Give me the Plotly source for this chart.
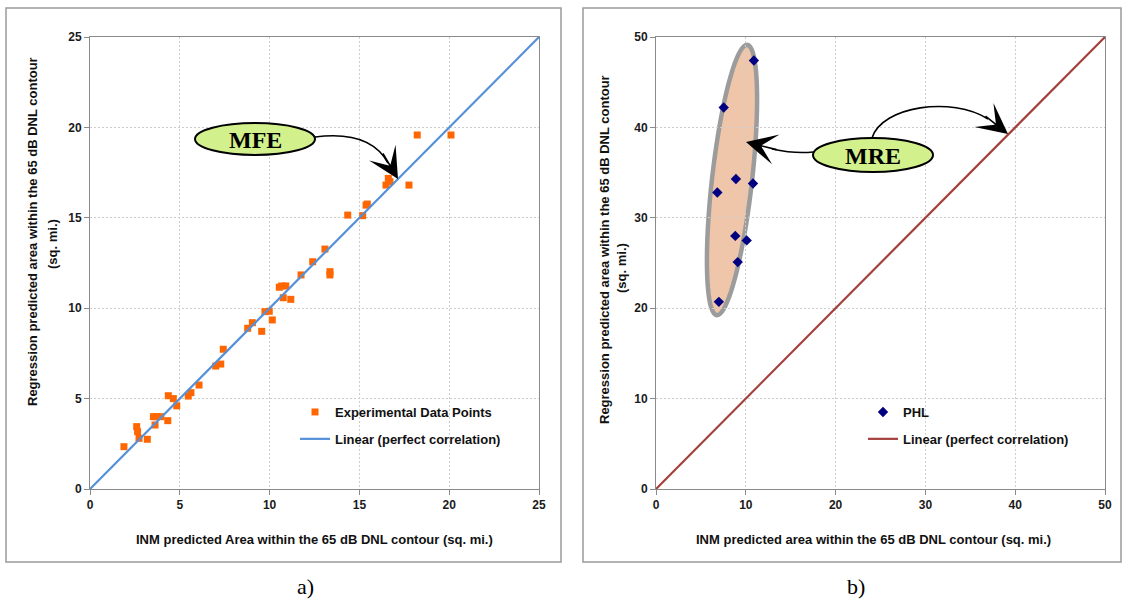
import numpy as np
import plotly.graph_objects as go

W, H = 1126, 602

# ---------------- data ----------------
# Panel a) experimental data points (INM area vs regression area, sq. mi.)
exp_x = [1.89, 2.6, 2.65, 2.73, 3.19, 3.53, 3.71, 3.62, 3.95, 4.33, 4.36, 4.64, 4.83,
         5.47, 5.62, 6.07, 7.0, 7.28, 7.42, 8.78, 9.04, 9.56, 9.74, 9.98, 10.15,
         10.54, 10.67, 10.9, 10.76, 11.18, 11.75, 12.4, 13.08, 13.36, 13.36,
         14.35, 15.18, 15.37, 15.44, 16.48, 16.61, 16.7, 17.76, 18.22, 20.1]
exp_y = [2.34, 3.45, 3.17, 2.8, 2.75, 4.0, 4.0, 3.54, 4.0, 3.78, 5.16, 5.0, 4.6,
         5.14, 5.33, 5.75, 6.8, 6.91, 7.73, 8.89, 9.2, 8.72, 9.81, 9.83, 9.35,
         11.16, 11.23, 11.23, 10.58, 10.49, 11.84, 12.57, 13.27, 12.02, 11.84,
         15.15, 15.12, 15.7, 15.76, 16.81, 17.18, 17.0, 16.81, 19.58, 19.58]
line_a_x = [0, 25]
line_a_y = [0, 25]

# Panel b) PHL points
phl_x = [10.9, 7.54, 8.9, 6.83, 10.8, 8.83, 10.1, 9.1, 7.0]
phl_y = [47.4, 42.2, 34.3, 32.8, 33.8, 28.0, 27.5, 25.1, 20.7]
line_b_x = [0, 50]
line_b_y = [0, 50]

ticks_a = [0, 5, 10, 15, 20, 25]
ticks_b = [0, 10, 20, 30, 40, 50]

# ---------------- helpers ----------------
def px(x):
    return x / W

def py(y):
    return 1 - y / H

FONT = "Liberation Sans"
AX_L, AX_R = 90, 539
BX_L, BX_R = 656, 1105
P_TOP, P_BOT = 37, 489

fig = go.Figure()

fig.add_trace(go.Scatter(x=exp_x, y=exp_y, mode="markers", name="Experimental Data Points",
                         marker=dict(symbol="square", size=7, color="#FF6600"),
                         xaxis="x", yaxis="y", legend="legend", legendgroup="a1"))
fig.add_trace(go.Scatter(x=line_a_x, y=line_a_y, mode="lines", name="Linear (perfect correlation)",
                         line=dict(color="#5590D8", width=2.2),
                         xaxis="x", yaxis="y", legend="legend", legendgroup="a2"))
fig.add_trace(go.Scatter(x=phl_x, y=phl_y, mode="markers", name="PHL",
                         marker=dict(symbol="diamond", size=8, color="#000080"),
                         xaxis="x2", yaxis="y2", legend="legend2", legendgroup="b1"))
fig.add_trace(go.Scatter(x=line_b_x, y=line_b_y, mode="lines", name="Linear (perfect correlation)",
                         line=dict(color="#A4403B", width=2.2),
                         xaxis="x2", yaxis="y2", legend="legend2", legendgroup="b2"))

tickfont = dict(family=FONT, size=12, color="#1a1a1a", weight="bold")

def axis(domain, ticks, anchor):
    return dict(domain=domain, range=[ticks[0], ticks[-1]], tickvals=ticks, anchor=anchor,
                automargin=False,
                showgrid=True, gridcolor="#cdcdcd", griddash="2px,2px", gridwidth=1,
                showline=True, linecolor="#8a8a8a", linewidth=1, mirror=True,
                ticks="outside", ticklen=5, tickcolor="#8a8a8a",
                tickfont=tickfont, zeroline=False, fixedrange=True)

ydom = [py(P_BOT), py(P_TOP)]
fig.update_layout(
    width=W, height=H, margin=dict(l=0, r=0, t=0, b=0, autoexpand=False),
    paper_bgcolor="white", plot_bgcolor="white",
    xaxis=axis([px(AX_L), px(AX_R)], ticks_a, "y"),
    yaxis=axis(ydom, ticks_a, "x"),
    xaxis2=axis([px(BX_L), px(BX_R)], ticks_b, "y2"),
    yaxis2=axis(ydom, ticks_b, "x2"),
    legend=dict(x=px(295), y=py(397), xanchor="left", yanchor="top",
                bgcolor="rgba(0,0,0,0)", tracegroupgap=7,
                font=dict(family=FONT, size=13, color="#111", weight="bold")),
    legend2=dict(x=px(863), y=py(397), xanchor="left", yanchor="top",
                 bgcolor="rgba(0,0,0,0)", tracegroupgap=7,
                 font=dict(family=FONT, size=13, color="#111", weight="bold")),
    showlegend=True,
)

shapes = []
# panel borders
for x0, x1 in [(6, 561), (583, 1121)]:
    shapes.append(dict(type="rect", xref="paper", yref="paper",
                       x0=px(x0), x1=px(x1), y0=py(562), y1=py(8),
                       line=dict(color="#9a9a9a", width=1.5), fillcolor="rgba(0,0,0,0)"))

# ellipse around PHL points (data space of panel b)
sx = (BX_R - BX_L) / 50.0   # px per unit
sy = (P_BOT - P_TOP) / 50.0
cx_px, cy_px = 732.0, 180.0
a_len, b_len = 136.0, 20.0
ang = np.arctan2(-270.0, 30.6)  # major axis direction in screen px
t = np.linspace(0, 2 * np.pi, 81)
ex = cx_px + a_len * np.cos(t) * np.cos(ang) - b_len * np.sin(t) * np.sin(ang)
ey = cy_px + a_len * np.cos(t) * np.sin(ang) + b_len * np.sin(t) * np.cos(ang)
dx = (ex - BX_L) / sx
dy = (P_BOT - ey) / sy
path = "M " + " L ".join(f"{a:.3f},{b:.3f}" for a, b in zip(dx, dy)) + " Z"
shapes.append(dict(type="path", xref="x2", yref="y2", path=path, layer="below",
                   fillcolor="#F0C6AA", line=dict(color="#9c9c9c", width=4.5)))

def ppath(cmds):
    out = []
    for c in cmds:
        if isinstance(c, str):
            out.append(c)
        else:
            out.append(f"{px(c[0]):.5f},{py(c[1]):.5f}")
    return " ".join(out)

# curved arrow shafts
shapes.append(dict(type="path", xref="paper", yref="paper",
                   path=ppath(["M", (315, 137), "Q", (370, 130), (388, 163)]),
                   line=dict(color="black", width=1.6)))
shapes.append(dict(type="path", xref="paper", yref="paper",
                   path=ppath(["M", (813, 152), "Q", (795, 154), (772, 149)]),
                   line=dict(color="black", width=1.6)))
shapes.append(dict(type="path", xref="paper", yref="paper",
                   path=ppath(["M", (872, 138), "C", (882, 106), (952, 96), (988, 119)]),
                   line=dict(color="black", width=1.6)))

# bubbles
for (x0, x1, y0, y1) in [(195, 315, 123, 155), (813, 933, 138, 172)]:
    shapes.append(dict(type="circle", xref="paper", yref="paper",
                       x0=px(x0), x1=px(x1), y0=py(y1), y1=py(y0),
                       fillcolor="#D2F08C", line=dict(color="black", width=2)))

fig.update_layout(shapes=shapes)

ann = []
# arrow heads
for (tx, ty, ax, ay) in [(398, 179, -16, -27), (746, 142, 32, 8), (1008, 134, -24, -19)]:
    ann.append(dict(x=px(tx), y=py(ty), xref="paper", yref="paper", text="",
                    showarrow=True, arrowhead=3, arrowsize=3.2, arrowwidth=1.6,
                    arrowcolor="black", ax=ax, ay=ay, standoff=0))
# bubble labels
for (txt, cx, cy) in [("MFE", 255, 140), ("MRE", 873, 156)]:
    ann.append(dict(x=px(cx), y=py(cy), xref="paper", yref="paper", text=f"<b>{txt}</b>",
                    showarrow=False, font=dict(family="Liberation Serif", size=24, color="black"),
                    xanchor="center", yanchor="middle"))

tfont = dict(family=FONT, size=13, color="#111")
# x-axis titles
ann.append(dict(x=px(314), y=py(539), xref="paper", yref="paper",
                text="<b>INM predicted Area within the 65 dB DNL contour (sq. mi.)</b>",
                showarrow=False, font=tfont, xanchor="center", yanchor="middle"))
ann.append(dict(x=px(873), y=py(539), xref="paper", yref="paper",
                text="<b>INM predicted area within the 65 dB DNL contour (sq. mi.)</b>",
                showarrow=False, font=tfont, xanchor="center", yanchor="middle"))
# y-axis titles
for (lx1, ly1, lx2, ly2) in [(32, 232, 52, 244), (605, 250, 621, 268)]:
    ann.append(dict(x=px(lx1), y=py(ly1), xref="paper", yref="paper",
                    text="<b>Regression predicted area within the 65 dB DNL contour</b>",
                    showarrow=False, font=tfont, textangle=-90,
                    xanchor="center", yanchor="middle"))
    ann.append(dict(x=px(lx2), y=py(ly2), xref="paper", yref="paper",
                    text="<b>(sq. mi.)</b>", showarrow=False, font=tfont, textangle=-90,
                    xanchor="center", yanchor="middle"))
# captions
for (txt, cx) in [("a)", 305), ("b)", 856)]:
    ann.append(dict(x=px(cx), y=py(586), xref="paper", yref="paper", text=txt,
                    showarrow=False, font=dict(family="Liberation Serif", size=22, color="black"),
                    xanchor="center", yanchor="middle"))

fig.update_layout(annotations=ann)

fig.write_html("out.html", config={"displayModeBar": False},
               post_script="document.body.style.margin='0';document.body.style.overflow='hidden';")
